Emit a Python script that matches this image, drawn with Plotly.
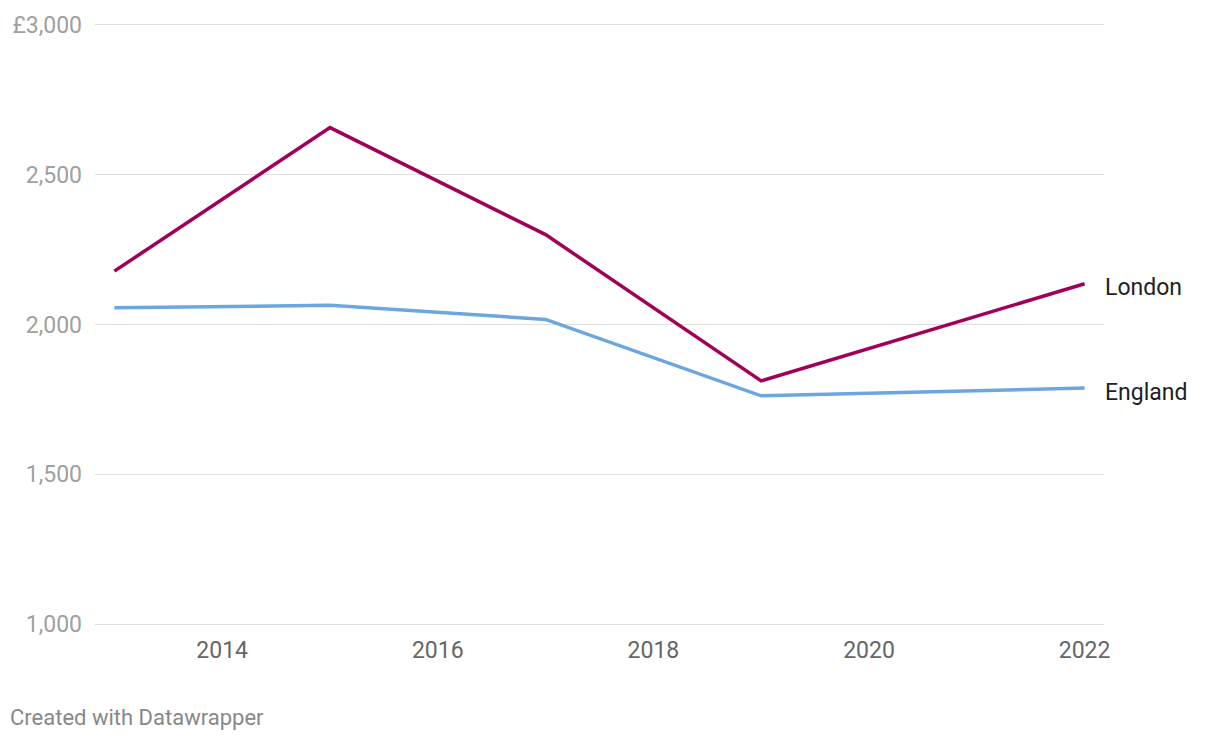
import plotly.graph_objects as go

years = [2013, 2015, 2017, 2019, 2022]
london = [2178, 2657, 2300, 1812, 2136]
england = [2056, 2064, 2017, 1762, 1788]
series_names = ["London", "England"]
y_ticks = [1000, 1500, 2000, 2500, 3000]
y_tick_labels = ["1,000", "1,500", "2,000", "2,500", "£3,000"]
x_ticks = [2014, 2016, 2018, 2020, 2022]

colors = {"London": "#a0005a", "England": "#6ca6de"}

fig = go.Figure()
for name, vals in zip(series_names, [london, england]):
    fig.add_trace(go.Scatter(
        x=years, y=vals, mode="lines", name=name,
        line=dict(color=colors[name], width=3.5),
        hoverinfo="x+y+name",
    ))
    fig.add_annotation(
        x=years[-1], y=vals[-1], text=name, showarrow=False,
        xanchor="left", yanchor="middle", xshift=18, yshift=-4,
        font=dict(family="Roboto", size=23, color="#222222"),
    )

fig.add_annotation(
    xref="paper", yref="paper", x=-87/1009, y=-92/605,
    text="Created with Datawrapper", showarrow=False,
    xanchor="left", yanchor="middle",
    font=dict(family="Roboto", size=22, color="#888888"),
)

fig.update_layout(
    width=1220, height=740,
    margin=dict(l=95, r=116, t=21, b=114),
    paper_bgcolor="white", plot_bgcolor="white",
    showlegend=False,
    font=dict(family="Roboto"),
)
fig.update_xaxes(
    range=[2012.82, 2022.18],
    tickvals=x_ticks, ticktext=[str(v) for v in x_ticks],
    showgrid=False, zeroline=False, showline=False,
    ticks="", ticklabelstandoff=8,
    tickfont=dict(family="Roboto", size=23, color="#666666"),
)
fig.update_yaxes(
    range=[994, 3006],
    tickvals=y_ticks, ticktext=y_tick_labels,
    showgrid=True, gridcolor="#e0e0e0", gridwidth=1,
    zeroline=False, showline=False, ticks="",
    ticklabelstandoff=12,
    tickfont=dict(family="Roboto", size=23, color="#a0a0a0"),
)

fig.write_html("out.html", config={"displayModeBar": False},
               post_script="document.body.style.margin='0';")
